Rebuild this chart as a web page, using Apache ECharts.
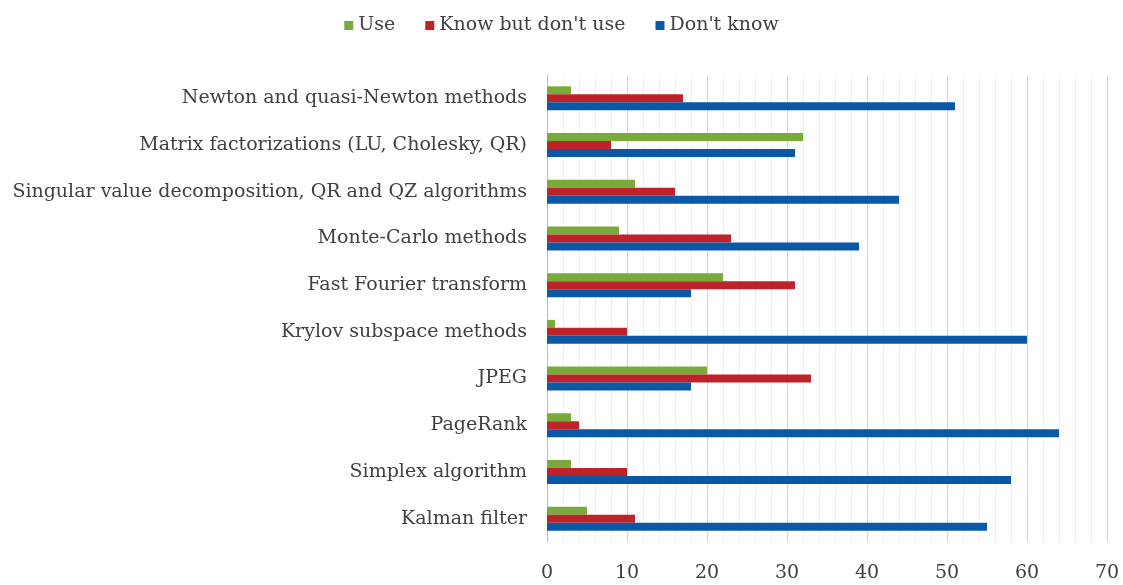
<!DOCTYPE html>
<html>
<head>
<meta charset="utf-8">
<script src="https://cdn.jsdelivr.net/npm/echarts@6/dist/echarts.min.js"></script>
<style>
  html, body { margin: 0; padding: 0; background: #fff; }
  #chart { width: 1123px; height: 585px; }
</style>
</head>
<body>
<div id="chart"></div>
<script>
  // categories, top to bottom
  var methods = [
    'Newton and quasi-Newton methods',
    'Matrix factorizations (LU, Cholesky, QR)',
    'Singular value decomposition, QR and QZ algorithms',
    'Monte-Carlo methods',
    'Fast Fourier transform',
    'Krylov subspace methods',
    'JPEG',
    'PageRank',
    'Simplex algorithm',
    'Kalman filter'
  ];
  var useVals = [3, 32, 11, 9, 22, 1, 20, 3, 3, 5];
  var knowVals = [17, 8, 16, 23, 31, 10, 33, 4, 10, 11];
  var dontKnowVals = [51, 31, 44, 39, 18, 60, 18, 64, 58, 55];
  var xTicks = [0, 10, 20, 30, 40, 50, 60, 70];

  var font = '"DejaVu Serif", serif';
  var chart = echarts.init(document.getElementById('chart'));

  chart.setOption({
    animation: false,
    legend: {
      top: 11,
      left: 'center',
      itemWidth: 9,
      itemHeight: 9,
      itemGap: 30,
      icon: 'rect',
      textStyle: { fontFamily: font, fontSize: 19, color: '#404040' },
      data: ['Use', "Know but don't use", "Don't know"]
    },
    grid: { left: 547, right: 16, top: 75, bottom: 43 },
    xAxis: {
      type: 'value',
      min: xTicks[0],
      max: xTicks[xTicks.length - 1],
      interval: 10,
      axisLine: { show: false },
      axisTick: { show: false },
      axisLabel: { fontFamily: font, fontSize: 19, color: '#404040', margin: 22 },
      splitLine: { lineStyle: { color: '#d4d4d4', width: 1 } },
      minorTick: { show: false, splitNumber: 5 },
      minorSplitLine: { show: true, lineStyle: { color: '#efefef', width: 1 } }
    },
    yAxis: {
      type: 'category',
      inverse: true,
      data: methods,
      axisLine: { lineStyle: { color: '#bfbfbf' } },
      axisTick: { length: 6, lineStyle: { color: '#bfbfbf' } },
      axisLabel: { fontFamily: font, fontSize: 19, color: '#404040', margin: 20 }
    },
    series: [
      { name: 'Use', type: 'bar', data: useVals, barWidth: 8, barGap: '0%',
        itemStyle: { color: '#79ab3a' } },
      { name: "Know but don't use", type: 'bar', data: knowVals, barWidth: 8, barGap: '0%',
        itemStyle: { color: '#bf2228' } },
      { name: "Don't know", type: 'bar', data: dontKnowVals, barWidth: 8, barGap: '0%',
        itemStyle: { color: '#0b58a6' } }
    ]
  });
</script>
</body>
</html>
